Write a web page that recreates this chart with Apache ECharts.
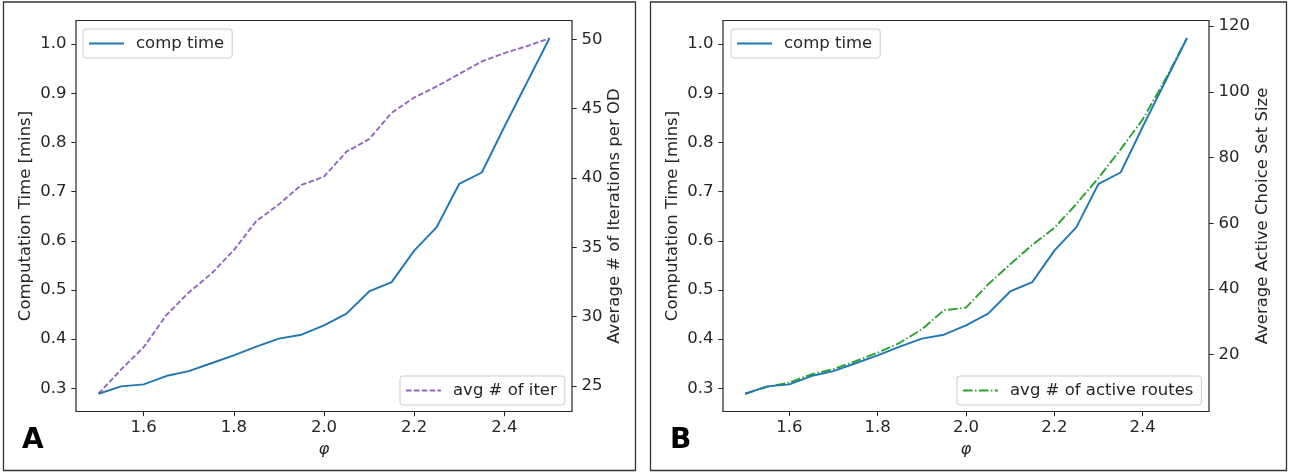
<!DOCTYPE html>
<html>
<head>
<meta charset="utf-8">
<script src="https://cdn.jsdelivr.net/npm/echarts@6/dist/echarts.min.js"></script>
<style>
  html, body { margin: 0; padding: 0; background: #ffffff; }
  #chart { width: 1292px; height: 473px; }
</style>
</head>
<body>
<div id="chart"></div>
<script>
// ---- data ----
const phi = [1.5, 1.55, 1.6, 1.65, 1.7, 1.75, 1.8, 1.85, 1.9, 1.95, 2.0, 2.05, 2.1, 2.15, 2.2, 2.25, 2.3, 2.35, 2.4, 2.45, 2.5];
const compTime = [0.289, 0.304, 0.308, 0.325, 0.335, 0.351, 0.367, 0.385, 0.401, 0.409, 0.428, 0.452, 0.497, 0.516, 0.580, 0.628, 0.716, 0.739, 0.832, 0.922, 1.012];
const avgIter = [24.45, 26.2, 27.8, 30.1, 31.75, 33.1, 34.8, 36.9, 38.1, 39.5, 40.1, 41.9, 42.8, 44.7, 45.8, 46.6, 47.5, 48.4, 49.0, 49.5, 50.07];
const activeRoutes = [8.1, 10.2, 11.5, 14.0, 15.6, 18.0, 20.6, 23.6, 27.7, 33.5, 34.3, 41.4, 47.5, 53.4, 58.6, 65.9, 73.8, 82.5, 91.6, 103.5, 116.3];
const xTicks = [1.6, 1.8, 2.0, 2.2, 2.4];
const timeTicks = [0.3, 0.4, 0.5, 0.6, 0.7, 0.8, 0.9, 1.0];
const iterTicks = [25, 30, 35, 40, 45, 50];
const routeTicks = [20, 40, 60, 80, 100, 120];

const seriesNames = ['comp time', 'avg # of iter', 'avg # of active routes'];
const axisTitles = ['Computation Time [mins]', 'Average # of Iterations per OD', 'Average Active Choice Set Size'];
const panelLabels = ['A', 'B'];

// ---- helpers ----
function pad(arr) {
  const lo = Math.min(...arr), hi = Math.max(...arr);
  const m = (hi - lo) * 0.05;
  return [lo - m, hi + m];
}
const pairs = (ys) => phi.map((x, i) => [x, ys[i]]);
const FONT = 'DejaVu Sans';
const TXT = '#262626';
const FS = 16.5;
const xr = pad(phi), tr = pad(compTime), ir = pad(avgIter), rr = pad(activeRoutes);

function xAxisFor(g) {
  return {
    type: 'value', gridIndex: g, min: xr[0], max: xr[1],
    axisLine: { show: false },
    axisTick: { show: true, customValues: xTicks, length: 4.7, lineStyle: { color: TXT, width: 1 } },
    axisLabel: { customValues: xTicks, formatter: v => v.toFixed(1), margin: 8, fontSize: FS, color: TXT, fontFamily: FONT },
    splitLine: { show: false },
    name: 'φ', nameLocation: 'middle', nameGap: 24,
    nameTextStyle: { fontStyle: 'italic', fontSize: FS, color: TXT, fontFamily: FONT }
  };
}
function yAxisFor(g, pos, range, ticks, dec, title, gap) {
  return {
    type: 'value', gridIndex: g, position: pos, min: range[0], max: range[1],
    axisLine: { show: false },
    axisTick: { show: true, customValues: ticks, length: 4.7, lineStyle: { color: TXT, width: 1 } },
    axisLabel: { customValues: ticks, formatter: v => v.toFixed(dec), margin: 9.5, fontSize: FS, color: TXT, fontFamily: FONT },
    splitLine: { show: false },
    name: title, nameLocation: 'middle', nameRotate: 90, nameGap: gap,
    nameTextStyle: { fontSize: FS, color: TXT, fontFamily: FONT }
  };
}
function legendAt(name, left, top) {
  return {
    data: [name], left: left, top: top, orient: 'horizontal',
    selectedMode: false,
    itemWidth: 35, itemHeight: 14,
    padding: [6, 8, 6, 5],
    borderColor: '#cccccc', borderWidth: 1, borderRadius: 3,
    backgroundColor: 'rgba(255,255,255,0.8)',
    itemStyle: { color: 'rgba(0,0,0,0)', borderWidth: 0, opacity: 0 },
    textStyle: { fontSize: FS, color: TXT, fontFamily: FONT, padding: [0, 0, 0, 7] }
  };
}

const blue = '#1f77b4', purple = '#9467bd', green = '#2ca02c';
const LW = 1.9;

const option = {
  animation: false,
  backgroundColor: '#ffffff',
  textStyle: { fontFamily: FONT },
  grid: [
    { left: 76, top: 20.5, width: 496, height: 391, show: true, borderColor: TXT, borderWidth: 1.2, backgroundColor: 'transparent' },
    { left: 723, top: 20.5, width: 486, height: 391, show: true, borderColor: TXT, borderWidth: 1.2, backgroundColor: 'transparent' }
  ],
  xAxis: [xAxisFor(0), xAxisFor(1)],
  yAxis: [
    yAxisFor(0, 'left', tr, timeTicks, 1, axisTitles[0], 42),
    yAxisFor(0, 'right', ir, iterTicks, 0, axisTitles[1], 34),
    yAxisFor(1, 'left', tr, timeTicks, 1, axisTitles[0], 42),
    yAxisFor(1, 'right', rr, routeTicks, 0, axisTitles[2], 42)
  ],
  legend: [
    legendAt(seriesNames[0], 83, 29),
    legendAt(seriesNames[1], 400, 376),
    legendAt(seriesNames[0], 731, 29),
    legendAt(seriesNames[2], 957, 376)
  ],
  series: [
    { name: seriesNames[0], type: 'line', xAxisIndex: 0, yAxisIndex: 0, data: pairs(compTime), symbol: 'none', color: blue, lineStyle: { color: blue, width: LW }, z: 3 },
    { name: seriesNames[1], type: 'line', xAxisIndex: 0, yAxisIndex: 1, data: pairs(avgIter), symbol: 'none', color: purple, lineStyle: { color: purple, width: LW, type: [5.5, 2.4] }, z: 2 },
    { name: seriesNames[0], type: 'line', xAxisIndex: 1, yAxisIndex: 2, data: pairs(compTime), symbol: 'none', color: blue, lineStyle: { color: blue, width: LW }, z: 3 },
    { name: seriesNames[2], type: 'line', xAxisIndex: 1, yAxisIndex: 3, data: pairs(activeRoutes), symbol: 'none', color: green, lineStyle: { color: green, width: LW, type: [9.6, 2.4, 1.5, 2.4] }, z: 2 }
  ],
  graphic: [
    { type: 'rect', shape: { x: 3.5, y: 2, width: 632, height: 468.5 }, style: { fill: 'none', stroke: '#333333', lineWidth: 1.3 }, silent: true },
    { type: 'rect', shape: { x: 650.5, y: 2, width: 636, height: 468.5 }, style: { fill: 'none', stroke: '#333333', lineWidth: 1.3 }, silent: true },
    { type: 'text', left: 22, top: 427, style: { text: panelLabels[0], font: 'bold 28px "DejaVu Sans"', fill: '#000000' } },
    { type: 'text', left: 670, top: 427, style: { text: panelLabels[1], font: 'bold 28px "DejaVu Sans"', fill: '#000000' } }
  ]
};

const chart = echarts.init(document.getElementById('chart'), null, { renderer: 'canvas' });
chart.setOption(option);
</script>
</body>
</html>
